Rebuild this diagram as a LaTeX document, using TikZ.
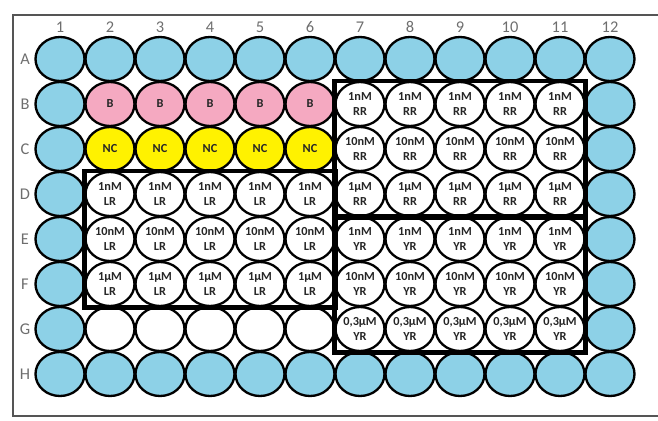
\documentclass[tikz,border=0pt]{standalone}
\usepackage{fontspec}
\setmainfont{Carlito}
\usetikzlibrary{shapes.geometric,fit}
\definecolor{wellblue}{HTML}{8DD1E7}
\definecolor{wellpink}{HTML}{F5A9C1}
\definecolor{wellyellow}{HTML}{FFF200}
\definecolor{labelgray}{HTML}{6E6E6E}
\definecolor{framegray}{HTML}{555555}

\begin{document}
\begin{tikzpicture}[x=1.5cm,y=-1.35cm,
    font=\fontsize{10.5}{13}\selectfont\bfseries,
    well/.style={ellipse,draw,line width=0.07cm,minimum width=1.47cm,minimum height=1.32cm,
      inner sep=0pt,fill=white,align=center,text=black!85},
    outerwell/.style={well,fill=wellblue},
    platelabel/.style={font=\fontsize{14}{16}\selectfont,text=labelgray},
    testbox/.style={draw,line width=0.14cm,inner sep=0pt}]
  \useasboundingbox (-0.2,-0.311) rectangle (12.96,9.044);
  \draw[framegray,line width=0.06cm] (13.2,0.022) -| (0.06,8.933) -- (13.2,8.933);
  \foreach \c in {1,...,12} \node[platelabel] (col\c) at (\c,0.289) {\c};
  \foreach \r [count=\i] in {A,...,H} \node[platelabel] (row\r) at (0.3,\i) {\r};
  \foreach \c in {1,...,12} {
    \node[outerwell] (A\c) at (\c,1) {};
    \node[outerwell] (H\c) at (\c,8) {};
  }
  \foreach \r [count=\i from 2] in {B,...,G} {
    \node[outerwell] (\r1) at (1,\i) {};
    \node[outerwell] (\r12) at (12,\i) {};
  }
  \foreach \c in {2,...,6} {
    \node[well,fill=wellpink] (B\c) at (\c,2) {B};
    \node[well,fill=wellyellow] (C\c) at (\c,3) {NC};
    \node[well] (D\c) at (\c,4) {1nM\\LR};
    \node[well] (E\c) at (\c,5) {10nM\\LR};
    \node[well] (F\c) at (\c,6) {1µM\\LR};
    \node[well] (G\c) at (\c,7) {};
  }
  \foreach \c in {7,...,11} {
    \node[well] (B\c) at (\c,2) {1nM\\RR};
    \node[well] (C\c) at (\c,3) {10nM\\RR};
    \node[well] (D\c) at (\c,4) {1µM\\RR};
    \node[well] (E\c) at (\c,5) {1nM\\YR};
    \node[well] (F\c) at (\c,6) {10nM\\YR};
    \node[well] (G\c) at (\c,7) {0,3µM\\YR};
  }
  \node[testbox,fit=(D2)(F6)] (LRbox) {};
  \node[testbox,fit=(B7)(D11)] (RRbox) {};
  \node[testbox,fit=(E7)(G11)] (YRbox) {};
\end{tikzpicture}
\end{document}
